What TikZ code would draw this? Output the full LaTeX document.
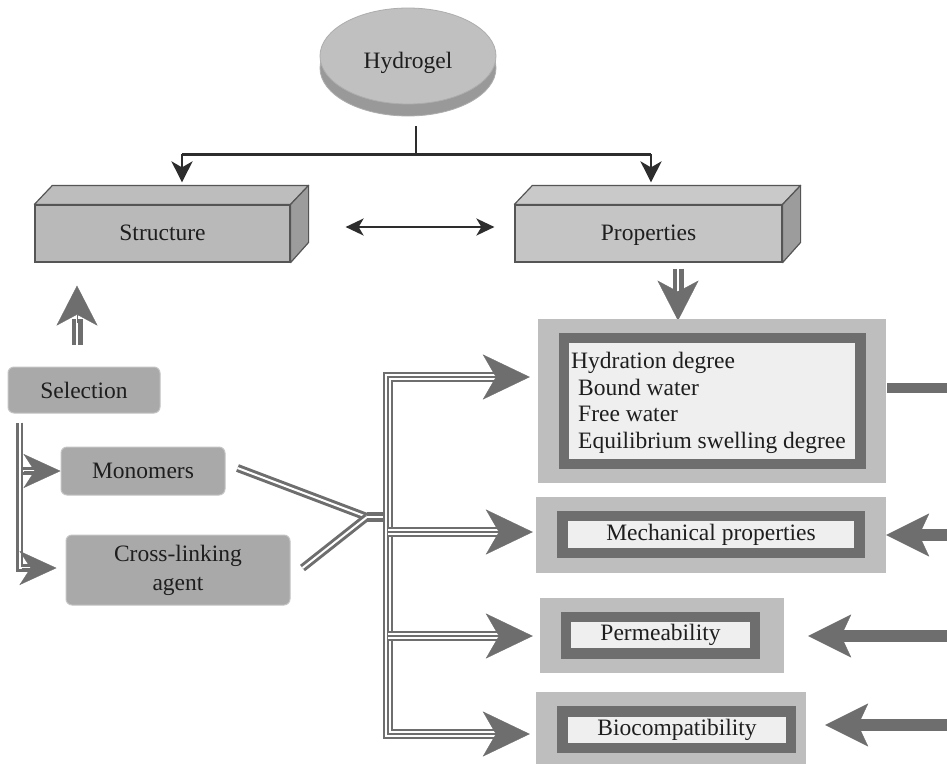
\documentclass[tikz,border=0pt]{standalone}
\usepackage{fontspec}
\setmainfont{Liberation Serif}
\usetikzlibrary{arrows.meta,shapes.geometric,calc}
\definecolor{tcol}{HTML}{1E1E1E}
\definecolor{gcol}{HTML}{6E6E6E}
\definecolor{obox}{HTML}{BEBEBE}
\definecolor{ibox}{HTML}{EFEFEF}
\definecolor{nodeg}{HTML}{A9A9A9}
\definecolor{nodeb}{HTML}{C4C4C4}
\definecolor{sfront}{HTML}{B9B9B9}
\definecolor{pfront}{HTML}{C5C5C5}
\definecolor{stop}{HTML}{BDBDBD}
\definecolor{ptop}{HTML}{C9C9C9}
\definecolor{cside}{HTML}{9C9C9C}
\definecolor{cedge}{HTML}{555555}
\definecolor{htop}{HTML}{C0C0C0}
\definecolor{hside}{HTML}{999999}
\definecolor{hedge}{HTML}{ADADAD}
\definecolor{blk}{HTML}{2D2D2D}
\newcommand\mytrip[1]{\draw[gcol,line width=10.5pt]#1;\draw[white,line width=6pt]#1;\draw[gcol,line width=2.3pt]#1;}
\begin{document}
\begin{tikzpicture}[x=1pt,y=-1pt,
  txt/.style={font=\fontsize{23.5}{27}\selectfont, text=tcol, inner sep=0pt},
  cubef/.style={txt, draw=cedge, line width=1.2pt, rectangle, text height=16pt, text depth=3pt},
  cubee/.style={draw=cedge, line width=1.2pt, line join=round},
  rnode/.style={txt, rectangle, rounded corners=6pt, fill=nodeg, draw=nodeb, line width=1pt},
  outerb/.style={rectangle, fill=obox, inner sep=0pt},
  frameb/.style={rectangle, fill=gcol, inner sep=0pt},
  innerb/.style={txt, rectangle, fill=ibox},
  blkarrow/.style={draw=blk, line width=2.7pt, -{Stealth[length=21pt,width=21pt,inset=6pt]}},
  blkline/.style={draw=blk, line width=2.7pt},
  dblarrow/.style={draw=blk, line width=2.2pt, {Stealth[length=18pt,width=17pt,inset=5pt]}-{Stealth[length=18pt,width=17pt,inset=5pt]}},
  ghA/.style={draw=gcol, fill=gcol, line width=0.3pt, -{Stealth[length=47pt,width=45pt,inset=13pt]}},
  ghB/.style={draw=gcol, fill=gcol, line width=0.3pt, -{Stealth[length=37pt,width=34pt,inset=11pt]}},
  ghU/.style={draw=gcol, fill=gcol, line width=0.3pt, -{Stealth[length=40pt,width=41pt,inset=11pt]}},
  ghC/.style={draw=gcol, fill=gcol, line width=0.3pt, -{Stealth[length=43pt,width=43pt,inset=10pt]}},
  dblA/.style={draw=gcol, line width=2.6pt, double=white, double distance=2pt},
  dblB/.style={draw=gcol, line width=3pt, double=white, double distance=2pt},
  dblC/.style={draw=gcol, line width=4.6pt, double=white, double distance=1.8pt},
  rsh/.style={draw=gcol, line width=12pt}
]
\useasboundingbox (0,0) rectangle (947,763);
\fill[white] (0,0) rectangle (947,763);
\clip (0,0) rectangle (947,763);

% Hydrogel disc
\fill[hside, draw=hedge, line width=0.8pt] (408,68) ellipse [x radius=88pt, y radius=48pt];
\node[ellipse, fill=htop, draw=hedge, line width=0.8pt, minimum width=176pt, minimum height=96pt, inner sep=0pt] (hyd) at (408,56) {};
\node[txt] (hydt) at (408,62.5) {Hydrogel};

% Structure / Properties cuboids
\node[cubef, fill=sfront, minimum width=255pt, minimum height=57pt] (struct) at (162.5,233.5) {Structure};
\draw[cubee, fill=stop] (struct.north west) -- ++(18,-19) -- ($(struct.north east)+(18,-19)$) -- (struct.north east) -- cycle;
\draw[cubee, fill=cside] (struct.north east) -- ++(18,-19) -- ++(0,57) -- (struct.south east) -- cycle;

\node[cubef, fill=pfront, minimum width=267pt, minimum height=57pt] (prop) at (648.5,233.5) {Properties};
\draw[cubee, fill=ptop] (prop.north west) -- ++(18,-19) -- ($(prop.north east)+(18,-19)$) -- (prop.north east) -- cycle;
\draw[cubee, fill=cside] (prop.north east) -- ++(18,-19) -- ++(0,57) -- (prop.south east) -- cycle;

% black connectors
\coordinate (hb) at ($(hyd.south)+(8,22)$);
\coordinate (hj) at ($(hyd.south)+(8,51)$);
\coordinate (sl) at ($(struct.north)+(19.5,-50)$);
\coordinate (pr) at ($(prop.north)+(2.5,-50)$);
\draw[blkline] (hb) -- (hj);
\draw[blkline] (sl) -- (pr);
\draw[blkarrow] (sl) -- ($(struct.north)+(19.5,-22)$);
\draw[blkarrow] (pr) -- ($(prop.north)+(2.5,-22)$);
\draw[dblarrow] ($(struct.east)+(55,-6.5)$) -- ($(prop.west)+(-20,-6.5)$);

% left nodes
\node[rnode, minimum width=152pt, minimum height=46pt] (sel) at (84,390) {Selection};
\node[rnode, minimum width=164pt, minimum height=48pt] (mono) at (143,471) {Monomers};
\node[rnode, minimum width=224pt, minimum height=70pt, align=center, font=\fontsize{23.5}{29}\selectfont] (xl) at (178,570) {Cross-linking\\agent};

% up arrow Selection -> Structure
\coordinate (upS) at ($(sel.north)+(-7,-22)$);
\coordinate (upT) at ($(struct.south)+(-85.5,23)$);
\draw[dblC] (upS) -- ($(upT)+(0,33)$);
\draw[ghU] ($(upT)+(0,37)$) -- (upT);

% Properties -> box1
\coordinate (pdS) at ($(prop.south)+(29.5,6)$);
\draw[dblC] (pdS) -- ++(0,26);
\draw[ghU] ($(pdS)+(0,22)$) -- ($(pdS)+(0,52)$);

% right boxes
\node[outerb, minimum width=348pt, minimum height=164pt] (b1o) at (712,401) {};
\node[frameb, minimum width=307pt, minimum height=136pt] (b1f) at (712.5,401) {};
\node[innerb, minimum width=286pt, minimum height=116pt] (b1i) at (712,401) {};
\node[txt, anchor=west, align=left, font=\fontsize{23.5}{26.7}\selectfont] (b1t) at (571,403)
  {Hydration degree\\\hspace*{7pt}Bound water\\\hspace*{7pt}Free water\\\hspace*{7pt}Equilibrium swelling degree};

\node[outerb, minimum width=350pt, minimum height=76pt] (b2o) at (711,535) {};
\node[frameb, minimum width=308pt, minimum height=47pt] (b2f) at (711,534.5) {};
\node[innerb, minimum width=286pt, minimum height=27pt] (b2i) at (711,534.5) {Mechanical properties};

\node[outerb, minimum width=244pt, minimum height=75pt] (b3o) at (662,635.5) {};
\node[frameb, minimum width=199pt, minimum height=47pt] (b3f) at (660.5,635.5) {};
\node[innerb, minimum width=179pt, minimum height=26pt] (b3i) at (660.5,635) {Permeability};

\node[outerb, minimum width=270pt, minimum height=74pt] (b4o) at (671,729) {};
\node[frameb, minimum width=239pt, minimum height=47pt] (b4f) at (676.5,729.5) {};
\node[innerb, minimum width=218pt, minimum height=26pt] (b4i) at (677,730) {Biocompatibility};

% Selection bracket
\coordinate (selb) at ($(sel.south west)+(12,9)$);
\coordinate (selc) at ($(selb |- xl.west)+(0,-2)$);
\draw[dblA] (selb) -- (selc) -- ($(selc)+(14,0)$);
\draw[dblA] ($(selb |- mono.west)+(3,0)$) -- ($(selb |- mono.west)+(16,0)$);
\draw[ghB] ($(selb |- mono.west)+(4,0)$) -- (mono.west);
\draw[ghB] ($(selc)+(2,0)$) -- ($(selc -| xl.west)+(-9,0)$);

% monomers / cross-linking to junction
\coordinate (jn) at (367,517);
\draw[dblB] ($(mono.east)+(12,-3)$) -- (jn);
\draw[dblB] ($(xl.east)+(12,-2)$) -- (jn);

% bus
\coordinate (bt) at (388,377);
\coordinate (bb) at (388,734);
\coordinate (b2y) at (388,532);
\coordinate (b3y) at (388,636);
\draw[dblC, line width=4.2pt, double distance=1.5pt] (jn) -- (jn -| 383,0);
\mytrip{($(bt -| b1o.west)+(-40,0)$) -- (bt) -- (bb) -- ($(bb -| b4o.west)+(-38,0)$)}
\mytrip{(b2y) -- ($(b2y -| b2o.west)+(-35,0)$)}
\mytrip{(b3y) -- ($(b3y -| b3o.west)+(-39,0)$)}
\draw[ghA] ($(bt -| b1o.west)+(-45,0)$) -- ($(bt -| b1o.west)+(-8,0)$);
\draw[ghA] ($(b2y -| b2o.west)+(-40,0)$) -- ($(b2y -| b2o.west)+(-3,0)$);
\draw[ghA] ($(b3y -| b3o.west)+(-44,0)$) -- ($(b3y -| b3o.west)+(-7,0)$);
\draw[ghA] ($(bb -| b4o.west)+(-43,0)$) -- ($(bb -| b4o.west)+(-6,0)$);

% right side arrows and bar
\draw[gcol, line width=10pt] ($(b1o.east)+(1,-13)$) -- ++(80,0);
\draw[rsh] ($(b2o.east)+(80,0)$) -- ($(b2o.east)+(30,0)$);
\draw[ghC] ($(b2o.east)+(36,0)$) -- (b2o.east);
\draw[rsh] ($(b3o.east)+(200,0.5)$) -- ($(b3o.east)+(54,0.5)$);
\draw[ghC] ($(b3o.east)+(60,0.5)$) -- ($(b3o.east)+(24,0.5)$);
\draw[rsh] ($(b4o.east)+(200,-4)$) -- ($(b4o.east)+(49,-4)$);
\draw[ghC] ($(b4o.east)+(55,-4)$) -- ($(b4o.east)+(19,-4)$);
\end{tikzpicture}
\end{document}
